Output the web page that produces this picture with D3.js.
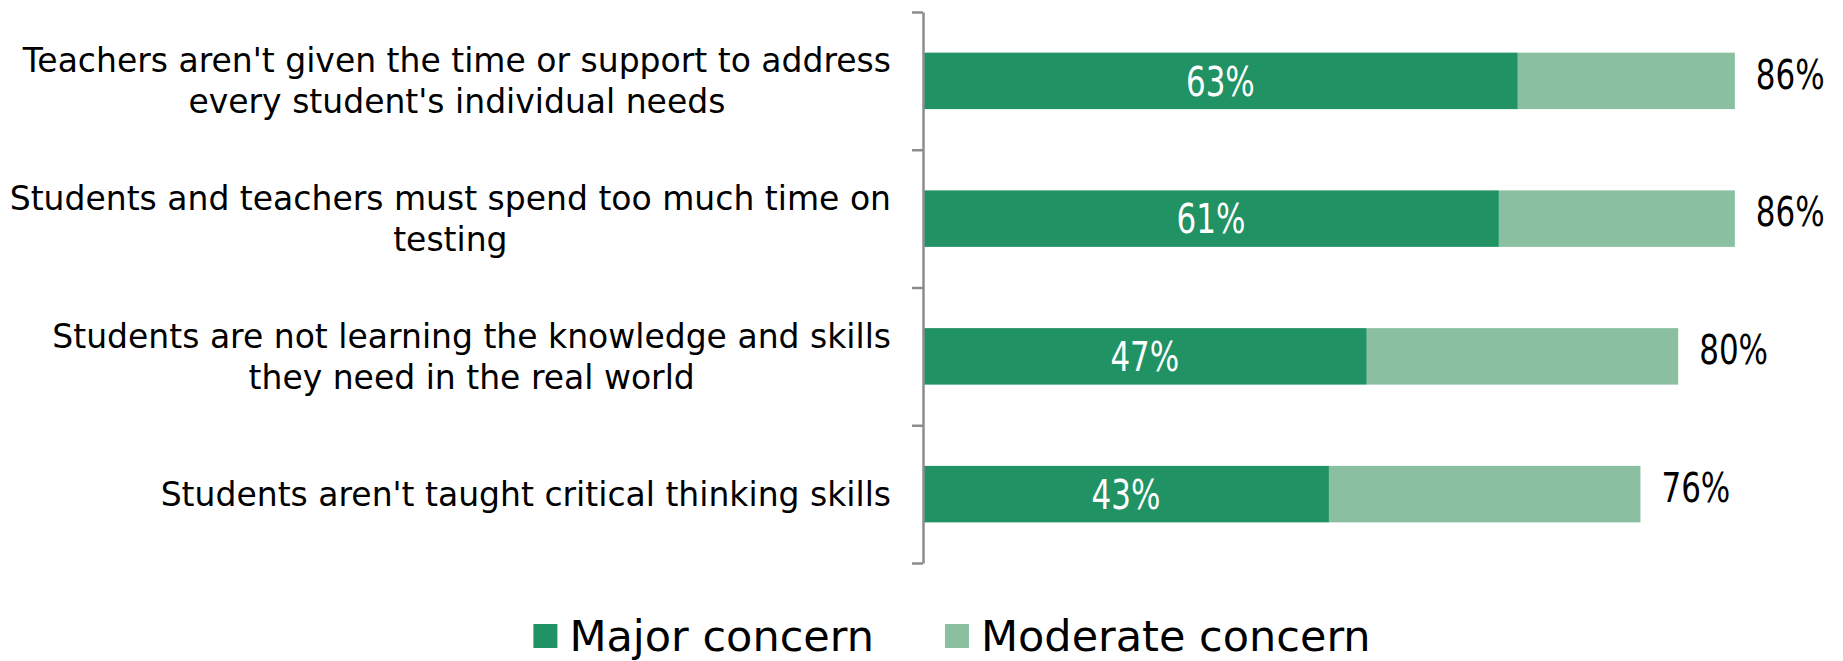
<!DOCTYPE html>
<html>
<head>
<meta charset="utf-8">
<script src="https://cdn.jsdelivr.net/npm/d3@7"></script>
<style>
  html, body { margin: 0; padding: 0; background: #ffffff; }
  svg { display: block; }
</style>
</head>
<body>
<svg id="chart" width="1843" height="661"></svg>
<script>
// Survey items, one per bar (each entry holds the wrapped lines of its label)
const categories = [
  ["Teachers aren't given the time or support to address", "every student's individual needs"],
  ["Students and teachers must spend too much time on", "testing"],
  ["Students are not learning the knowledge and skills", "they need in the real world"],
  ["Students aren't taught critical thinking skills"]
];
// Share calling it a major concern
const majorConcern = [0.63, 0.61, 0.47, 0.43];
// Share calling it a major or moderate concern (bar total)
const anyConcern = [0.86, 0.86, 0.80, 0.76];
const seriesNames = ["Major concern", "Moderate concern"];
const seriesColors = ["#219264", "#8ac0a1"];

const svg = d3.select("#chart");

const textFont = "'DejaVu Sans', Verdana, sans-serif";
const numFont = "'DejaVu Sans Condensed', 'DejaVu Sans', sans-serif";
const numSquash = 0.84;   // narrow number face

const plotTop = 12, plotBottom = 563, axisX = 923;

const keys = categories.map((c, i) => i);
const y = d3.scaleBand().domain(keys).range([plotTop, plotBottom])
  .paddingInner(0.59).paddingOuter(0.295);
const x = d3.scaleLinear().domain([0, 1]).range([axisX, axisX + 944]);
const fmt = d3.format(".0%");

// Moderate segment: from the major share out to the total share
svg.append("g").selectAll("rect").data(keys).join("rect")
  .attr("x", i => x(majorConcern[i]))
  .attr("y", i => y(i))
  .attr("width", i => x(anyConcern[i]) - x(majorConcern[i]))
  .attr("height", y.bandwidth())
  .attr("fill", seriesColors[1]);

// Major segment
svg.append("g").selectAll("rect").data(keys).join("rect")
  .attr("x", x(0))
  .attr("y", i => y(i))
  .attr("width", i => x(majorConcern[i]) - x(0))
  .attr("height", y.bandwidth())
  .attr("fill", seriesColors[0]);

// Value labels inside the major segment
svg.append("g").selectAll("text").data(keys).join("text")
  .attr("transform", i => `translate(${(x(0) + x(majorConcern[i])) / 2},${y(i) + y.bandwidth() / 2}) scale(${numSquash},1)`)
  .attr("dy", "0.36em")
  .attr("text-anchor", "middle")
  .attr("fill", "#ffffff")
  .style("font-family", numFont)
  .style("font-size", "41px")
  .text(i => fmt(majorConcern[i]));

// Total labels to the right of each bar
svg.append("g").selectAll("text").data(keys).join("text")
  .attr("transform", i => `translate(${x(anyConcern[i]) + 21},${y(i) + y.bandwidth() / 2 - 7}) scale(${numSquash},1)`)
  .attr("dy", "0.36em")
  .attr("text-anchor", "start")
  .attr("fill", "#000000")
  .style("font-family", numFont)
  .style("font-size", "41px")
  .text(i => fmt(anyConcern[i]));

// Vertical category axis with ticks on the band boundaries
const edge = d3.scaleLinear().domain([0, categories.length]).range([plotTop, plotBottom]);
const axis = svg.append("g")
  .attr("transform", `translate(${axisX},0)`)
  .call(d3.axisLeft(edge).tickValues(d3.range(categories.length + 1))
    .tickSize(11).tickSizeOuter(0).tickFormat(""));
axis.selectAll("path, line").attr("stroke", "#8c8c8c").attr("stroke-width", 2.5);

// Category labels: lines centred on each other, block right-aligned to the axis
const labelRight = 891, lineGap = 41;
const labelG = svg.append("g");
keys.forEach(i => {
  const lines = categories[i];
  const t = labelG.append("text")
    .style("font-family", textFont)
    .style("font-size", "33px")
    .attr("fill", "#000000")
    .attr("text-anchor", "middle");
  const cy = y(i) + y.bandwidth() / 2;
  const spans = lines.map((ln, k) => t.append("tspan")
    .attr("x", 0)
    .attr("y", cy + (k - (lines.length - 1) / 2) * lineGap)
    .attr("dy", "0.36em")
    .text(ln));
  const w = d3.max(spans, s => s.node().getComputedTextLength());
  spans.forEach(s => s.attr("x", labelRight - w / 2));
});

// Legend, centred below the plot
const legend = svg.append("g");
const sw = 24, textOff = 36, itemGap = 71, legendY = 636, legendCx = 952;
let cursor = 0;
seriesNames.forEach((name, k) => {
  const g = legend.append("g");
  g.append("rect").attr("x", 0).attr("y", legendY - sw / 2)
    .attr("width", sw).attr("height", sw).attr("fill", seriesColors[k]);
  const tx = g.append("text").attr("x", textOff).attr("y", legendY).attr("dy", "0.36em")
    .style("font-family", textFont).style("font-size", "43px").attr("fill", "#000000")
    .text(name);
  const w = textOff + tx.node().getComputedTextLength();
  g.attr("transform", `translate(${cursor},0)`);
  cursor += w + itemGap;
});
const totalW = cursor - itemGap;
legend.attr("transform", `translate(${legendCx - totalW / 2},0)`);
</script>
</body>
</html>
